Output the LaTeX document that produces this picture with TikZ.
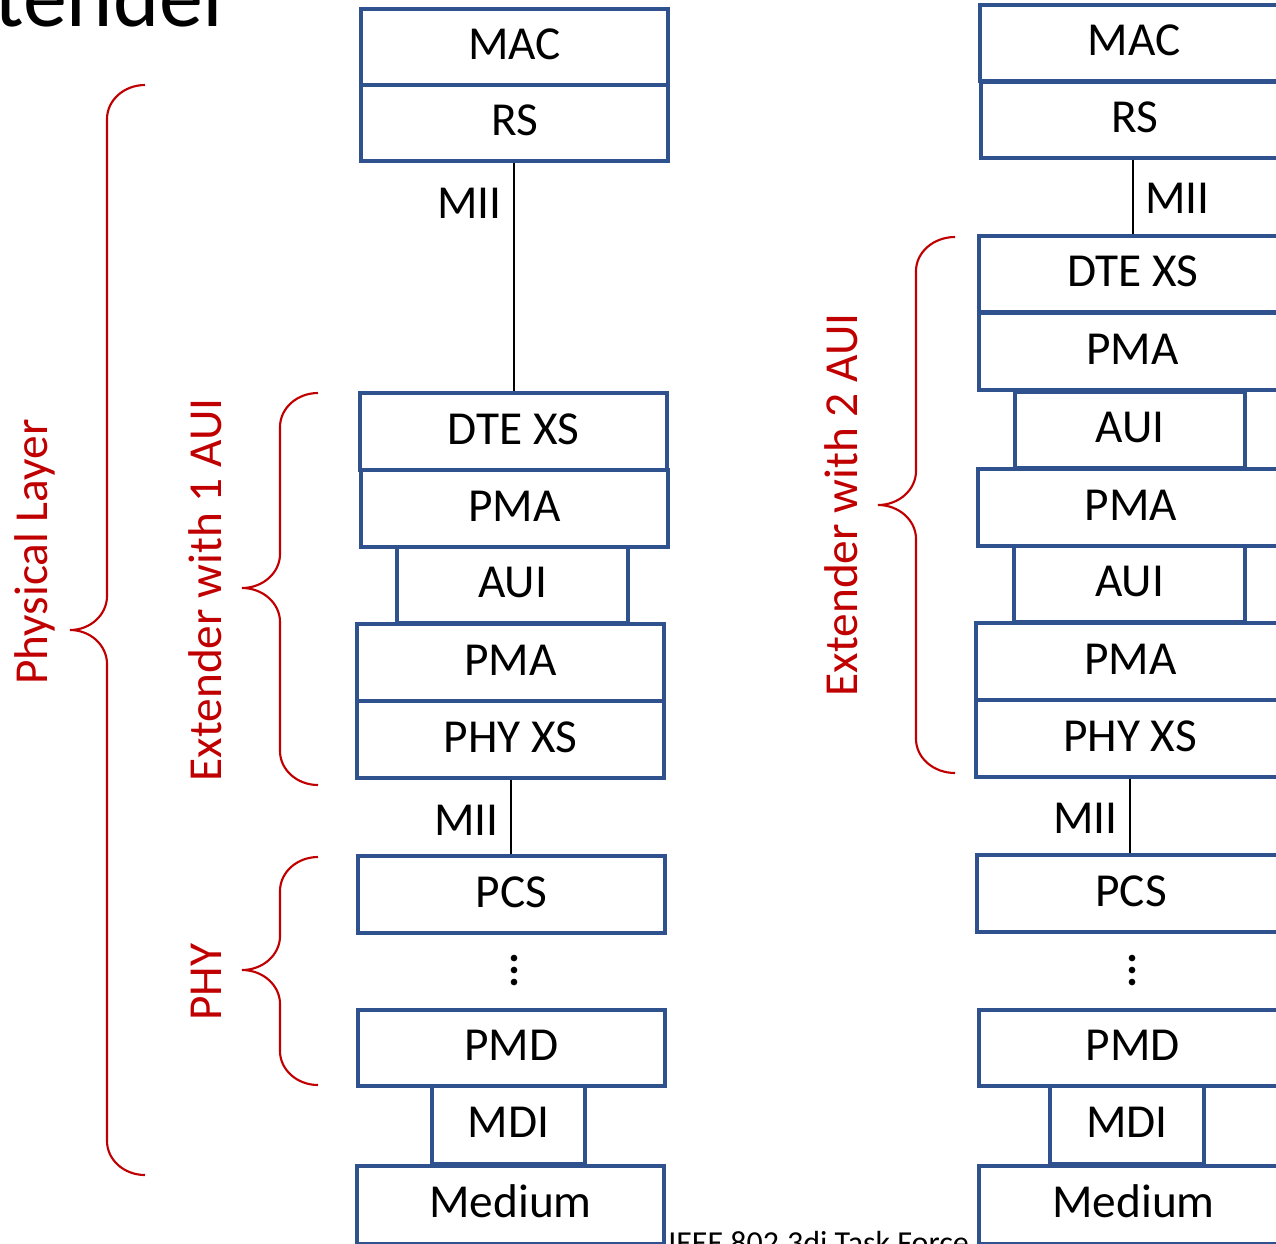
\documentclass[tikz,border=0pt]{standalone}
\usepackage{fontspec}
\setmainfont{Carlito}
\definecolor{boxblue}{RGB}{47,82,143}
\definecolor{bracered}{RGB}{192,0,0}

% a layer box spanning (x1,y1)-(x2,y2), in pixel units of 0.75pt
\newcommand\layer[6]{\node[blk, minimum width={(#4-#2)*0.75pt}, minimum height={(#5-#3)*0.75pt}]
  (#1) at ({(#2+#4)/2},{(#3+#5)/2}) {#6};}
% curly brace: tip x, stem x, point x, top y, middle y, bottom y, corner size
\newcommand\curly[7]{%
  \draw[brace] (#1,#4) .. controls ({#1-0.552*(#1-#2)},#4) and (#2,{#4+0.448*#7}) .. (#2,{#4+#7})
    -- (#2,{#5-#7}) .. controls (#2,{#5-0.448*#7}) and ({#3+0.552*(#2-#3)},#5) .. (#3,#5)
    .. controls ({#3+0.552*(#2-#3)},#5) and (#2,{#5+0.448*#7}) .. (#2,{#5+#7})
    -- (#2,{#6-#7}) .. controls (#2,{#6-0.448*#7}) and ({#1-0.552*(#1-#2)},#6) .. (#1,#6);}

\begin{document}
\begin{tikzpicture}[x=0.75pt,y=-0.75pt,
  blk/.style={draw=boxblue, line width=2.3pt, inner sep=0pt, text height=22.9pt, text depth=3.55pt,
    font=\fontsize{35.5}{40}\selectfont},
  lbl/.style={inner sep=0pt, font=\fontsize{35.5}{40}\selectfont},
  brace/.style={draw=bracered, line width=1.6pt},
  side/.style={text=bracered, rotate=90, anchor=base, inner sep=0pt, font=\fontsize{35.5}{40}\selectfont},
  link/.style={draw=black, line width=1.5pt}]
\useasboundingbox (0,0) rectangle (1276,1243);
\clip (0,0) rectangle (1276,1243);

% slide title and footer
\node[anchor=base east, inner sep=0pt, font=\fontsize{66}{70}\selectfont] (title) at (234,26) {Extender};
\node[anchor=base west, inner sep=0pt, font=\fontsize{24}{28}\selectfont] (footer) at (668,1253) {IEEE 802.3di Task Force};

% ---- stack with one AUI ----
\layer{macA}{361}{9}{668}{85}{MAC}
\layer{rsA}{361}{85}{668}{161}{RS}
\layer{dteA}{360}{393}{667}{470}{DTE XS}
\layer{pmaA1}{361}{470}{668}{547}{PMA}
\layer{auiA}{397}{547}{628}{623}{AUI}
\layer{pmaA2}{357}{624}{664}{701}{PMA}
\layer{phyA}{357}{701}{664}{778}{PHY XS}
\layer{pcsA}{358}{856}{665}{933}{PCS}
\layer{pmdA}{358}{1010}{665}{1086}{PMD}
\layer{mdiA}{432}{1086}{585}{1164}{MDI}
\layer{medA}{357}{1166}{664}{1244}{Medium}

\draw[link] (rsA.south -| 514,0) -- (dteA.north -| 514,0);
\node[lbl, anchor=east] (miiA1) at (502,203) {MII};
\draw[link] (phyA.south -| 511,0) -- (pcsA.north -| 511,0);
\node[lbl, anchor=east] (miiA2) at (499,820) {MII};
\node[inner sep=0pt] (dotsA) at (514,970) {};
\foreach \yy in {-12,0,12} \fill ([yshift=-\yy*0.75pt]dotsA) circle[radius=2.5pt];

% ---- stack with two AUIs ----
\layer{macB}{980}{5}{1288}{81}{MAC}
\layer{rsB}{981}{82}{1289}{158}{RS}
\layer{dteB}{979}{236}{1287}{312}{DTE XS}
\layer{pmaB1}{979}{313}{1286}{390}{PMA}
\layer{auiB1}{1015}{392}{1245}{468}{AUI}
\layer{pmaB2}{978}{469}{1284}{546}{PMA}
\layer{auiB2}{1014}{546}{1245}{622}{AUI}
\layer{pmaB3}{976}{623}{1285}{700}{PMA}
\layer{phyB}{976}{700}{1284}{777}{PHY XS}
\layer{pcsB}{977}{855}{1285}{932}{PCS}
\layer{pmdB}{979}{1010}{1287}{1086}{PMD}
\layer{mdiB}{1050}{1086}{1204}{1164}{MDI}
\layer{medB}{979}{1166}{1288}{1244}{Medium}

\draw[link] (rsB.south -| 1133,0) -- (dteB.north -| 1133,0);
\node[lbl, anchor=west] (miiB1) at (1145,198) {MII};
\draw[link] (phyB.south -| 1130,0) -- (pcsB.north -| 1130,0);
\node[lbl, anchor=east] (miiB2) at (1118,818) {MII};
\node[inner sep=0pt] (dotsB) at (1132,970) {};
\foreach \yy in {-12,0,12} \fill ([yshift=-\yy*0.75pt]dotsB) circle[radius=2.5pt];

% ---- braces and their labels ----
\curly{145}{107}{70}{85}{630}{1175}{34}
\node[side] (lblPhys) at (47,552) {Physical Layer};
\curly{318}{280}{242}{393}{588}{785}{34}
\node[side] (lblExt1) at (221,590) {Extender with 1 AUI};
\curly{318}{280}{242}{857}{970}{1085}{34}
\node[side] (lblPhy) at (221,982) {PHY};
\curly{955}{916}{878}{237}{505}{773}{34}
\node[side] (lblExt2) at (857,505) {Extender with 2 AUI};
\end{tikzpicture}
\end{document}
